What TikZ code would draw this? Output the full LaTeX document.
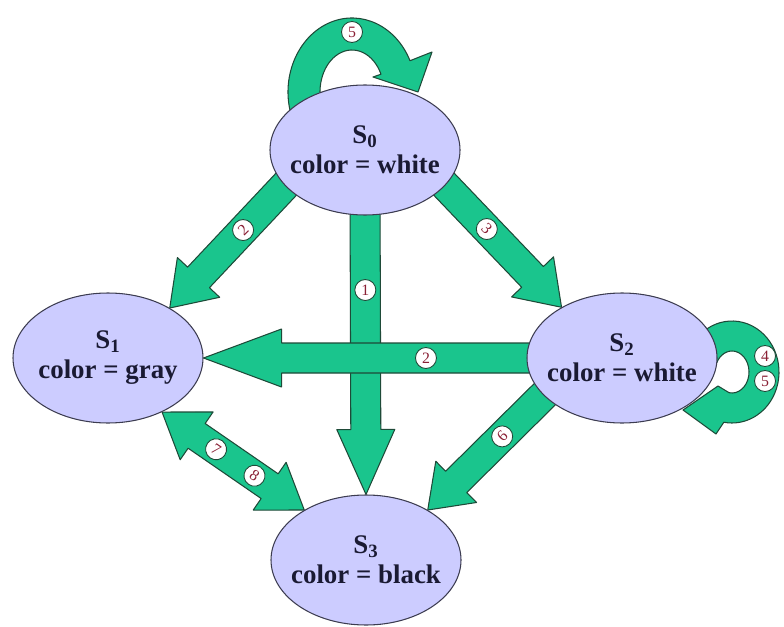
\documentclass[tikz,border=0pt]{standalone}
\usepackage{fontspec}
\setmainfont{Liberation Serif}
\usepackage{tikz}
\usetikzlibrary{calc,backgrounds,shapes.geometric}
\definecolor{st-fill}{HTML}{CCCCFF}
\definecolor{st-line}{HTML}{3C3C50}
\definecolor{st-text}{HTML}{1A1A33}
\definecolor{ar-fill}{HTML}{1AC58D}
\definecolor{ar-line}{HTML}{1E4A38}
\definecolor{num-text}{HTML}{8A2035}

\newcommand{\shafthalf}{0.3cm}
\newcommand{\headhalf}{0.58cm}
\newcommand{\fatarrow}[3]{%
  \coordinate (fa-t) at #1;
  \coordinate (fa-h) at #2;
  \coordinate (fa-b) at ($(fa-h)!#3!(fa-t)$);
  \filldraw[blockarrow] ($(fa-t)!\shafthalf!90:(fa-h)$) -- ($(fa-b)!\shafthalf!90:(fa-h)$)
    -- ($(fa-b)!\headhalf!90:(fa-h)$) -- (fa-h) -- ($(fa-b)!\headhalf!-90:(fa-h)$)
    -- ($(fa-b)!\shafthalf!-90:(fa-h)$) -- ($(fa-t)!\shafthalf!-90:(fa-h)$) -- cycle;
}
\newcommand{\fatarrowboth}[3]{%
  \coordinate (fa-t) at #1;
  \coordinate (fa-h) at #2;
  \coordinate (fa-b) at ($(fa-h)!#3!(fa-t)$);
  \coordinate (fa-c) at ($(fa-t)!#3!(fa-h)$);
  \filldraw[blockarrow] ($(fa-c)!\shafthalf!90:(fa-h)$) -- ($(fa-b)!\shafthalf!90:(fa-h)$)
    -- ($(fa-b)!\headhalf!90:(fa-h)$) -- (fa-h) -- ($(fa-b)!\headhalf!-90:(fa-h)$)
    -- ($(fa-b)!\shafthalf!-90:(fa-h)$) -- ($(fa-c)!\shafthalf!-90:(fa-h)$)
    -- ($(fa-c)!\headhalf!-90:(fa-h)$) -- (fa-t) -- ($(fa-c)!\headhalf!90:(fa-h)$) -- cycle;
}

\begin{document}
\begin{tikzpicture}[
    state/.style={draw=st-line, fill=st-fill, ellipse, line width=0.6pt, minimum width=3.8cm,
      minimum height=2.6cm, inner xsep=-0.3cm, align=center, text=st-text,
      font=\fontsize{15.3}{17}\selectfont\bfseries},
    num/.style={draw=ar-line, fill=white, circle, line width=0.5pt, inner sep=0pt,
      minimum size=0.42cm, text=num-text, font=\fontsize{9}{9}\selectfont},
    blockarrow/.style={fill=ar-fill, draw=ar-line, line width=0.6pt, line join=round}]
    \useasboundingbox (0,0) rectangle (15.68,12.52);

    \node[state] (s0) at (7.30,9.52) {S\textsubscript{0}\\color = white};
    \node[state] (s1) at (2.16,5.36) {S\textsubscript{1}\\color = gray};
    \node[state] (s2) at (12.44,5.36) {S\textsubscript{2}\\color = white};
    \node[state] (s3) at (7.32,1.32) {S\textsubscript{3}\\color = black};

    \begin{pgfonlayer}{background}
    \fatarrow{($(s0.center)!0.6!(s0.south)$)}{(s3.north)}{1.3cm}
    \node[num] (l1) at ($(fa-t)!0.33!(fa-h)$) {1};
    \fatarrow{($(s0.center)!0.75!(s0.-163)$)}{(s1.39)}{0.84cm}
    \node[num, rotate=45] (l2) at ($(fa-t)!0.435!(fa-h)$) {2};
    \fatarrow{($(s0.center)!0.75!(s0.-17)$)}{(s2.140)}{0.84cm}
    \node[num, rotate=-45] (l3) at ($(fa-t)!0.43!(fa-h)$) {3};
    \fatarrow{($(s2.center)!0.5!(s2.west)$)}{(s1.east)}{1.56cm}
    \node[num] (l2b) at ($(fa-t)!0.4!(fa-h)$) {2};
    \fatarrow{($(s2.center)!0.73!(s2.-161)$)}{(s3.39)}{0.8cm}
    \node[num, rotate=45] (l6) at ($(fa-t)!0.436!(fa-h)$) {6};
    \fatarrowboth{(s1.-45)}{(s3.141)}{0.84cm}
    \node[num, rotate=-35] (l7) at ($(fa-t)!0.38!(fa-h)$) {7};
    \node[num, rotate=-35] (l8) at ($(fa-t)!0.65!(fa-h)$) {8};

    % self loops
    \coordinate (c0) at ($(s0.center)+(-0.26,1.16)$);
    \filldraw[blockarrow] ($(c0)+(200:1.28 and 1.48)$) arc[start angle=200, end angle=25, x radius=1.28, y radius=1.48]
      -- ($(c0)+(1.6,0.8)$) -- ($(c0)+(1.32,0)$) -- ($(c0)+(0.42,0.30)$)
      -- ($(c0)+(25:0.64 and 0.84)$) arc[start angle=25, end angle=200, x radius=0.64, y radius=0.84] -- cycle;
    \node[num] (l5a) at ($(c0)+(0,1.2)$) {5};
    \coordinate (c2) at ($(s2.center)+(2.2,-0.28)$);
    \filldraw[blockarrow] ($(c2)+(155:0.94 and 1.02)$) arc[start angle=155, end angle=-100, x radius=0.94, y radius=1.02]
      -- ($(c2)+(-0.32,-1.24)$) -- ($(c2)+(-0.98,-0.76)$) -- ($(c2)+(-0.28,-0.28)$)
      -- ($(c2)+(-100:0.34 and 0.42)$) arc[start angle=-100, end angle=155, x radius=0.34, y radius=0.42] -- cycle;
    \node[num] (l4) at ($(c2)+(0.66,0.32)$) {4};
    \node[num] (l5b) at ($(c2)+(0.66,-0.18)$) {5};
    \end{pgfonlayer}
\end{tikzpicture}
\end{document}
